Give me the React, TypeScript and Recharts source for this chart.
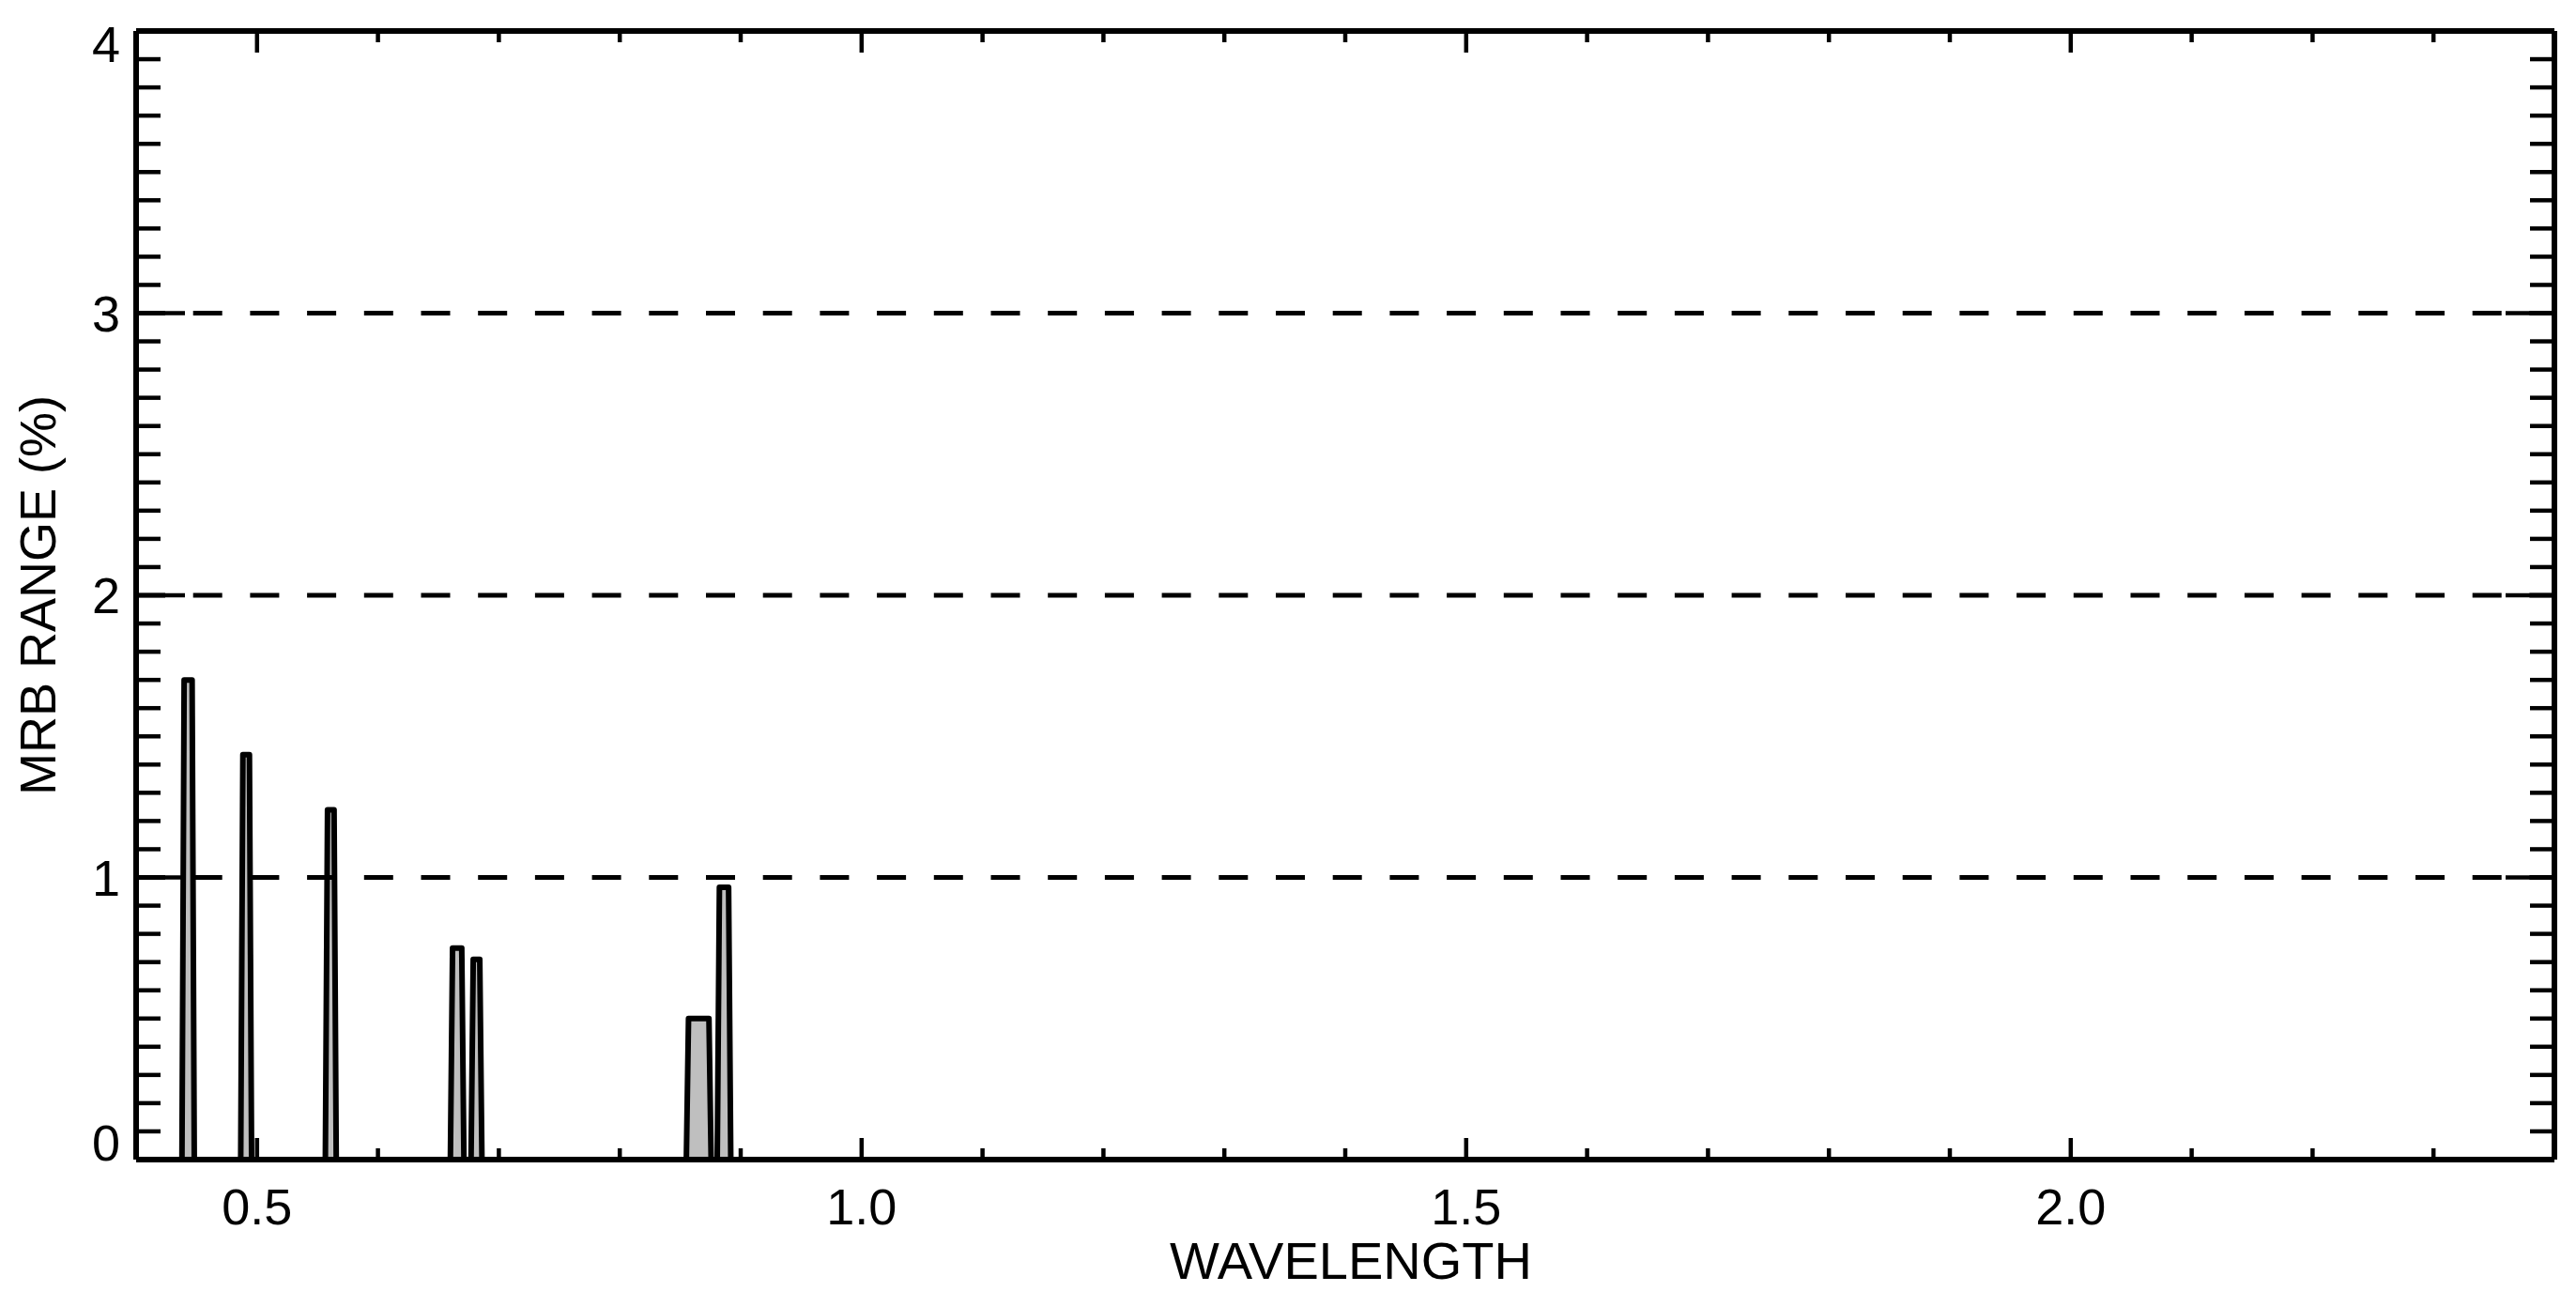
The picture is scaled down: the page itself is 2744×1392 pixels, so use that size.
import { ComposedChart, Area, XAxis, YAxis, ReferenceLine } from 'recharts'

// band centres (µm), full widths at the base (µm) and MRB range (%)
const bandCenters = [0.443, 0.491, 0.561, 0.6655, 0.6815, 0.8653, 0.8862]
const bandWidths = [0.0102, 0.009, 0.009, 0.0112, 0.009, 0.0205, 0.0112]
const mrbRange = [1.7, 1.435, 1.24, 0.75, 0.71, 0.5, 0.965]

const xTicks = [0.5, 0.6, 0.7, 0.8, 0.9, 1.0, 1.1, 1.2, 1.3, 1.4, 1.5, 1.6, 1.7, 1.8, 1.9, 2.0, 2.1, 2.2, 2.3]
const xMajor = [0.5, 1.0, 1.5, 2.0]
const yTicks = [
  0, 0.1, 0.2, 0.3, 0.4, 0.5, 0.6, 0.7, 0.8, 0.9,
  1, 1.1, 1.2, 1.3, 1.4, 1.5, 1.6, 1.7, 1.8, 1.9,
  2, 2.1, 2.2, 2.3, 2.4, 2.5, 2.6, 2.7, 2.8, 2.9,
  3, 3.1, 3.2, 3.3, 3.4, 3.5, 3.6, 3.7, 3.8, 3.9, 4,
]
const yMajor = [0, 1, 2, 3, 4]
const limitLines = [1, 2, 3]

const FONT = '"Liberation Sans", Arial, Helvetica, sans-serif'
const W = 2728
const H = 1376
const margin = { top: 15, right: 5, bottom: 49, left: 37 }
const plotLeft = margin.left + 100
const plotRight = W - margin.right - 10
const plotTop = margin.top + 10
const plotBottom = H - margin.bottom - 100

// each band drawn as a slightly tapered box with a flat top
const taper = 0.0018
const outline = bandCenters.flatMap((c, i) => {
  const lo = c - bandWidths[i] / 2
  const hi = c + bandWidths[i] / 2
  return [
    { w: lo, mrb: 0 },
    { w: lo + taper, mrb: mrbRange[i] },
    { w: hi - taper, mrb: mrbRange[i] },
    { w: hi, mrb: 0 },
  ]
})

const isIn = (list: number[], v: number) => list.some(m => Math.abs(m - v) < 1e-6)

function BottomTick({ x, y, payload }: any) {
  const major = isIn(xMajor, payload.value)
  return (
    <g>
      <line x1={x} y1={y} x2={x} y2={y - (major ? 23 : 12)} stroke="#000" strokeWidth={4.5} />
      {major && (
        <text x={x} y={y + 50} textAnchor="middle" dominantBaseline="central" fontSize={54} fontFamily={FONT} fill="#000">
          {payload.value.toFixed(1)}
        </text>
      )}
    </g>
  )
}

function TopTick({ x, y, payload }: any) {
  const major = isIn(xMajor, payload.value)
  return <line x1={x} y1={y} x2={x} y2={y + (major ? 23 : 12)} stroke="#000" strokeWidth={4.5} />
}

function LeftTick({ x, y, payload }: any) {
  const major = isIn(yMajor, payload.value)
  const shift = payload.value === 0 ? -18 : payload.value === 4 ? 14 : 0
  return (
    <g>
      <line x1={x} y1={y} x2={x + (major ? 52 : 26)} y2={y} stroke="#000" strokeWidth={4.5} />
      {major && (
        <text x={x - 17} y={y + shift} textAnchor="end" dominantBaseline="central" fontSize={54} fontFamily={FONT} fill="#000">
          {payload.value}
        </text>
      )}
    </g>
  )
}

function RightTick({ x, y, payload }: any) {
  const major = isIn(yMajor, payload.value)
  return <line x1={x} y1={y} x2={x - (major ? 52 : 26)} y2={y} stroke="#000" strokeWidth={4.5} />
}

const frame = { stroke: '#000', strokeWidth: 6 }

export default function App() {
  return (
    <div style={{ width: W, height: H }}>
      <ComposedChart width={W} height={H} data={outline} margin={margin} style={{ fontFamily: FONT }}>
        <XAxis
          xAxisId="b"
          dataKey="w"
          type="number"
          domain={[0.4, 2.4]}
          allowDataOverflow
          ticks={xTicks}
          interval={0}
          tickSize={0}
          tickMargin={0}
          tickLine={false}
          axisLine={frame}
          tick={(p: any) => <BottomTick {...p} />}
          height={100}
          label={{
            content: () => (
              <text x={(plotLeft + plotRight) / 2 + 6} y={plotBottom + 127} textAnchor="middle" fontSize={56} fontFamily={FONT} fill="#000">
                WAVELENGTH
              </text>
            ),
          }}
        />
        <XAxis
          xAxisId="t"
          dataKey="w"
          orientation="top"
          type="number"
          domain={[0.4, 2.4]}
          allowDataOverflow
          ticks={xTicks}
          interval={0}
          tickSize={0}
          tickMargin={0}
          tickLine={false}
          axisLine={frame}
          tick={(p: any) => <TopTick {...p} />}
          height={10}
        />
        <YAxis
          yAxisId="l"
          type="number"
          domain={[0, 4]}
          allowDataOverflow
          ticks={yTicks}
          interval={0}
          tickSize={0}
          tickMargin={0}
          tickLine={false}
          axisLine={frame}
          tick={(p: any) => <LeftTick {...p} />}
          width={100}
          label={{
            content: () => (
              <text
                x={32}
                y={(plotTop + plotBottom) / 2}
                transform={`rotate(-90 32 ${(plotTop + plotBottom) / 2})`}
                textAnchor="middle"
                dominantBaseline="central"
                fontSize={54}
                fontFamily={FONT}
                fill="#000"
              >
                MRB RANGE (%)
              </text>
            ),
          }}
        />
        <YAxis
          yAxisId="r"
          orientation="right"
          type="number"
          domain={[0, 4]}
          allowDataOverflow
          ticks={yTicks}
          interval={0}
          tickSize={0}
          tickMargin={0}
          tickLine={false}
          axisLine={frame}
          tick={(p: any) => <RightTick {...p} />}
          width={10}
        />
        <Area
          xAxisId="b"
          yAxisId="l"
          type="linear"
          dataKey="mrb"
          stroke="#000"
          strokeWidth={6}
          strokeLinejoin="round"
          fill="#bfbfbf"
          fillOpacity={1}
          dot={false}
          activeDot={false}
          isAnimationActive={false}
        />
        {/* invisible copy tied to the top axis so its scale is built */}
        <Area
          xAxisId="t"
          yAxisId="r"
          type="linear"
          dataKey="mrb"
          stroke="none"
          fill="none"
          dot={false}
          activeDot={false}
          isAnimationActive={false}
        />
        {limitLines.map(v => (
          <ReferenceLine
            key={v}
            xAxisId="b"
            yAxisId="l"
            y={v}
            stroke="#000"
            strokeWidth={5}
            strokeDasharray="31 29.7"
          />
        ))}
      </ComposedChart>
    </div>
  )
}
